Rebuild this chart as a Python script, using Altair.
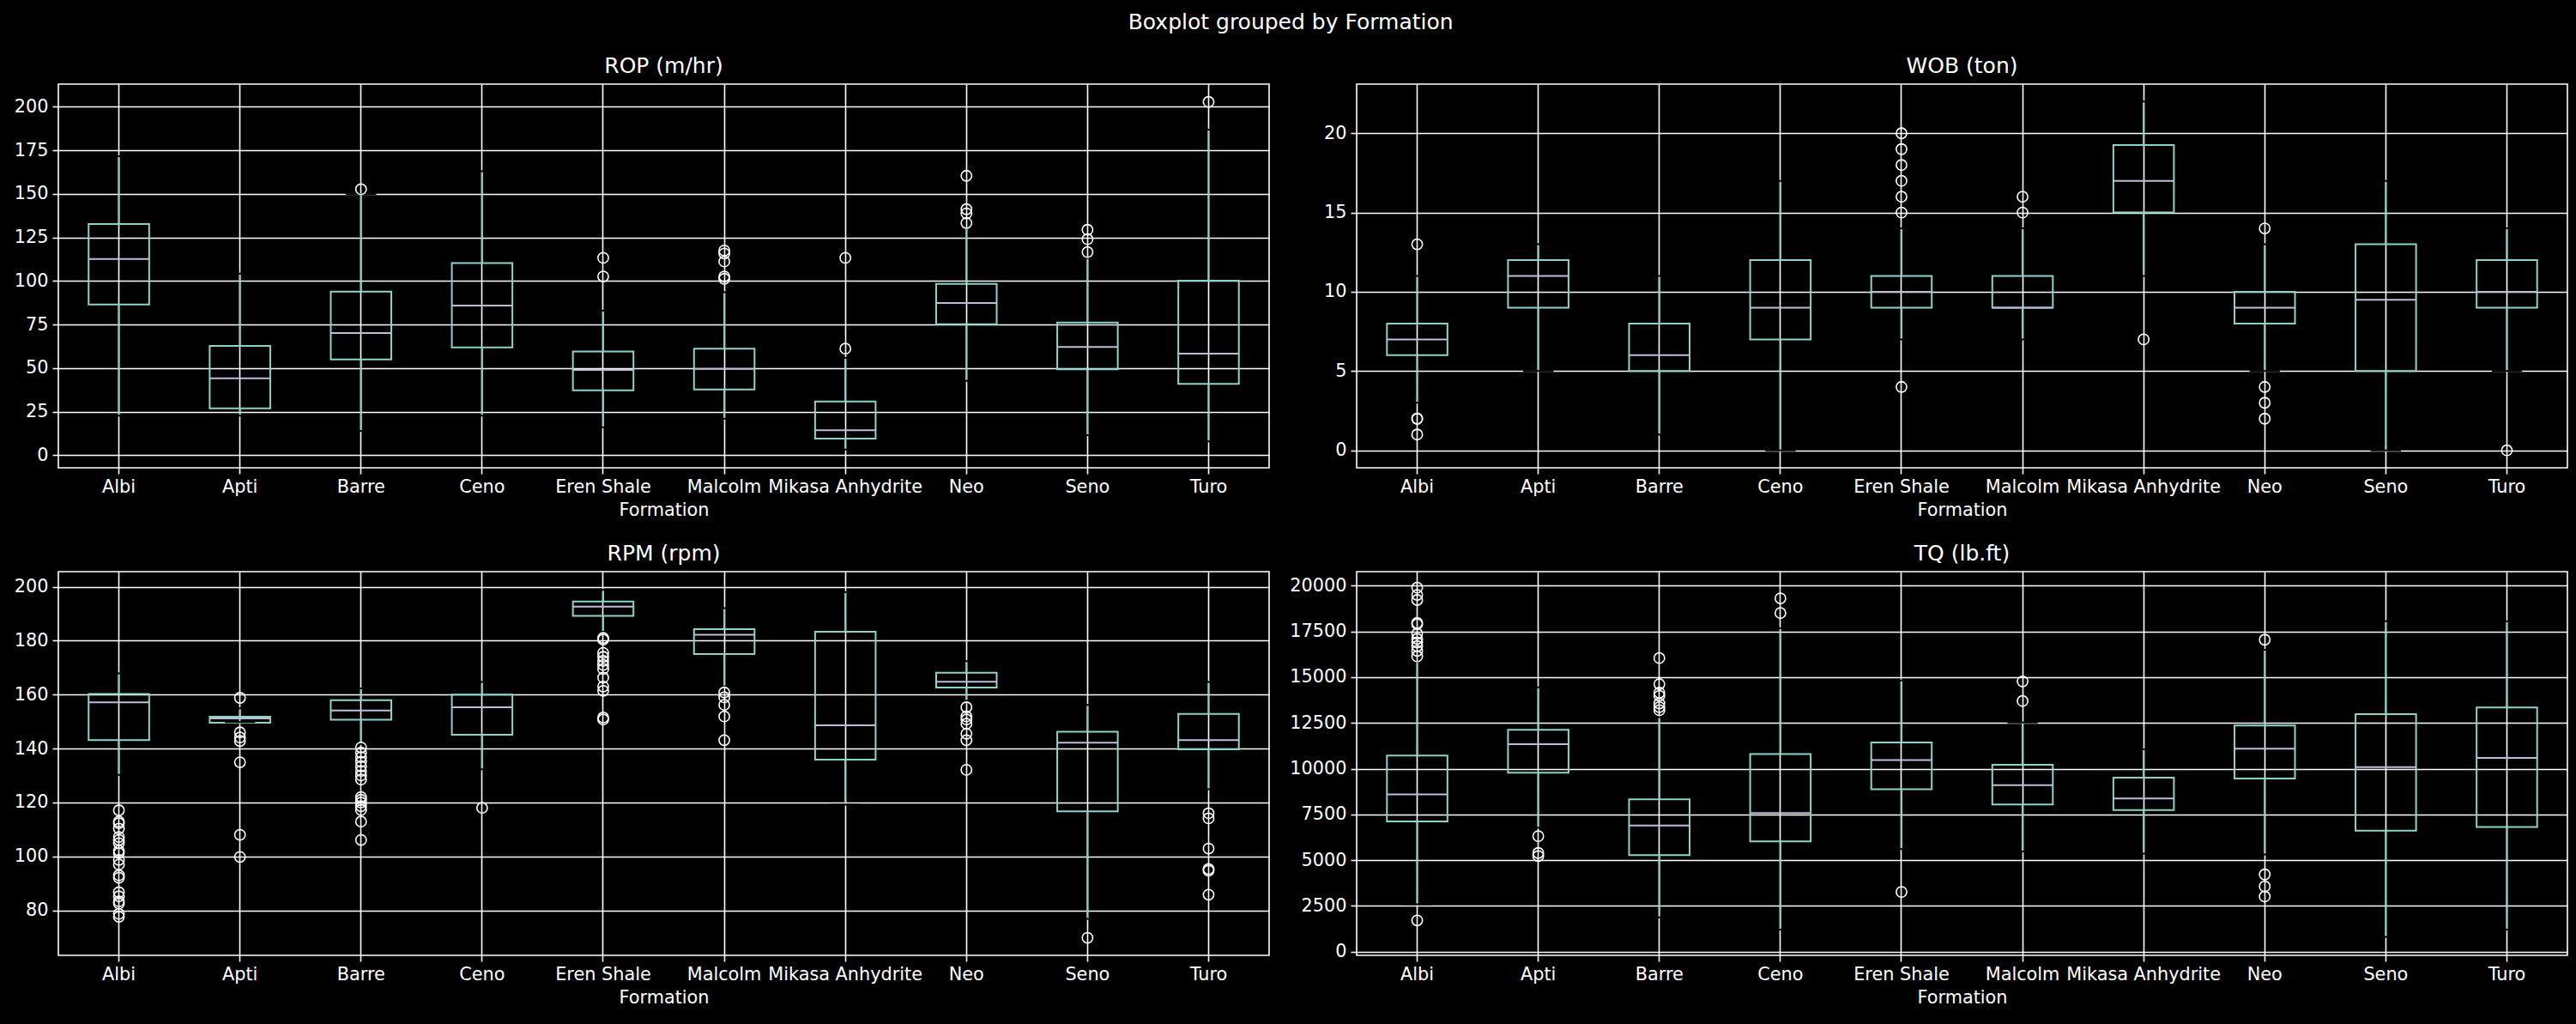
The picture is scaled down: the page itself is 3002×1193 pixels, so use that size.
import altair as alt
import pandas as pd

FORMATIONS = ["Albi", "Apti", "Barre", "Ceno", "Eren Shale", "Malcolm",
              "Mikasa Anhydrite", "Neo", "Seno", "Turo"]

# ROP (m/hr): quartiles, whisker ends and outliers per formation
ROP_Q1 = [86.5, 26.9, 55.0, 61.9, 37.3, 37.8, 9.5, 75.2, 49.3, 41.0]
ROP_MED = [112.6, 44.2, 70.1, 85.9, 48.9, 49.6, 14.3, 87.4, 62.1, 58.3]
ROP_Q3 = [132.7, 62.7, 93.9, 110.3, 59.6, 61.2, 30.9, 98.4, 76.2, 100.2]
ROP_LO = [22.7, 22.7, 14.0, 22.7, 16.1, 21.0, 3.3, 42.7, 11.5, 7.9]
ROP_HI = [171.6, 104.3, 149.8, 163.0, 82.9, 93.6, 55.8, 130.2, 113.3, 186.9]
ROP_OUT = [[], [], [152.7], [], [113.3, 102.6],
           [117.5, 115.8, 111.2, 102.6, 101.3], [113.3, 61.2],
           [160.4, 141.2, 138.8, 133.3], [129.4, 124.0, 116.6], [202.8]]

# WOB (ton)
WOB_Q1 = [6, 9, 5, 7, 9, 9, 15, 8, 5, 9]
WOB_MED = [7, 11, 6, 9, 10, 9, 17, 9, 9.5, 10]
WOB_Q3 = [8, 12, 8, 12, 11, 11, 19.25, 10, 13, 12]
WOB_LO = [3, 5, 1, 0, 7, 7, 11, 5, 0, 5]
WOB_HI = [11, 13, 11, 17, 14, 14, 22, 13, 17, 14]
WOB_OUT = [[13, 2, 2, 1], [], [], [], [20, 19, 18, 17, 16, 15, 4], [16, 15],
           [7], [14, 4, 3, 2], [], [0]]

# RPM (rpm)
RPM_Q1 = [143.1, 149.6, 150.7, 145.1, 189.2, 175.0, 135.9, 162.6, 116.7, 139.7]
RPM_MED = [157.1, 151.2, 154.1, 155.3, 192.6, 182.2, 148.6, 164.8, 142.2, 143.1]
RPM_Q3 = [160.2, 151.8, 157.9, 160.0, 194.5, 184.3, 183.3, 168.1, 146.2, 152.8]
RPM_LO = [130.2, 149.8, 141.7, 132.3, 183.3, 163.0, 119.2, 157.7, 76.8, 124.9]
RPM_HI = [167.9, 154.9, 162.3, 164.7, 198.8, 192.1, 198.0, 172.4, 156.2, 164.7]
RPM_OUT = [
    [117.1, 112.9, 112.3, 110.3, 107.2, 106.1, 104.9, 102.1, 101.2, 98.7,
     97.0, 93.0, 92.1, 86.7, 85.2, 83.3, 82.5, 78.7, 77.6],
    [158.8, 146.0, 144.1, 142.8, 134.9, 108.0, 99.8],
    [140.4, 138.5, 136.8, 135.1, 133.4, 131.7, 130.0, 128.5, 122.0, 121.0,
     120.0, 118.6, 117.2, 112.9, 106.1],
    [118.0],
    [181.0, 180.4, 175.5, 174.0, 172.5, 171.0, 169.5, 166.3, 163.0, 161.4,
     151.5, 150.8],
    [160.8, 159.0, 156.2, 151.9, 143.1],
    [],
    [155.3, 151.9, 150.8, 149.2, 145.5, 143.1, 132.1],
    [69.8],
    [116.0, 114.1, 102.9, 95.3, 94.7, 85.8],
]

# TQ (lb.ft)
TQ_Q1 = [7119, 9782, 5276, 6030, 8878, 8040, 7739, 9464, 6616, 6817]
TQ_MED = [8593, 11345, 6901, 7571, 10469, 9095, 8375, 11089, 10084, 10586]
TQ_Q3 = [10720, 12125, 8325, 10804, 11440, 10218, 9514, 12362, 12982, 13350]
TQ_LO = [2596, 6784, 1876, 1206, 5611, 5477, 5360, 5310, 804, 1206]
TQ_HI = [15860, 14450, 12814, 17672, 14824, 12529, 11055, 16499, 18057, 18057]
TQ_OUT = [
    [19893, 19500, 19220, 17970, 17900, 17380, 17100, 16900, 16700, 16440,
     16140, 1709],
    [6315, 5394, 5226],
    [16047, 14623, 14154, 13987, 13568, 13367, 13199],
    [19313, 18509],
    [3266],
    [14774, 13702],
    [],
    [17052, 4221, 3568, 3015],
    [],
    [],
]

PANELS = [
    ("ROP (m/hr)", ROP_Q1, ROP_MED, ROP_Q3, ROP_LO, ROP_HI, ROP_OUT),
    ("WOB (ton)", WOB_Q1, WOB_MED, WOB_Q3, WOB_LO, WOB_HI, WOB_OUT),
    ("RPM (rpm)", RPM_Q1, RPM_MED, RPM_Q3, RPM_LO, RPM_HI, RPM_OUT),
    ("TQ (lb.ft)", TQ_Q1, TQ_MED, TQ_Q3, TQ_LO, TQ_HI, TQ_OUT),
]

# Axis ranges and tick positions for each panel
Y_DOMAINS = {
    "ROP (m/hr)": [-7.2, 213.0],
    "WOB (ton)": [-1.1, 23.1],
    "RPM (rpm)": [63.3, 205.6],
    "TQ (lb.ft)": [-200, 20770],
}
Y_TICKS = {
    "ROP (m/hr)": list(range(0, 201, 25)),
    "WOB (ton)": list(range(0, 21, 5)),
    "RPM (rpm)": list(range(80, 201, 20)),
    "TQ (lb.ft)": list(range(0, 20001, 2500)),
}

TEAL = "#8dd3c7"
LAVENDER = "#bfbbd9"
FONT = "DejaVu Sans"
PANEL_W = 1411
PANEL_H = 447
LW = 2


def panel(title, q1, med, q3, lo, hi, out):
    stats = pd.DataFrame({
        "Formation": FORMATIONS, "q1": q1, "med": med, "q3": q3,
        "lo": lo, "hi": hi,
    })
    fl = pd.DataFrame(
        [(f, v) for f, vals in zip(FORMATIONS, out) for v in vals],
        columns=["Formation", "value"],
    )

    x = alt.X(
        "Formation:N", sort=FORMATIONS,
        scale=alt.Scale(domain=FORMATIONS, paddingInner=0, paddingOuter=0),
        axis=alt.Axis(title="Formation", labelAngle=0, bandPosition=0.5,
                      labelOverlap=False, labelLimit=500, grid=True),
    )
    yscale = alt.Scale(domain=Y_DOMAINS[title], nice=False, zero=False)
    yaxis = alt.Axis(values=Y_TICKS[title], format="d", title=None, grid=True)

    base = alt.Chart(stats)
    whisk_lo = base.mark_rule(color=TEAL, strokeWidth=LW).encode(
        x=x, y=alt.Y("lo:Q", scale=yscale, axis=yaxis), y2="q1:Q")
    whisk_hi = base.mark_rule(color=TEAL, strokeWidth=LW).encode(
        x=x, y=alt.Y("q3:Q", scale=yscale), y2="hi:Q")
    box = base.mark_bar(width={"band": 0.5}, fillOpacity=0, stroke=TEAL,
                        strokeWidth=LW).encode(
        x=x, y=alt.Y("q1:Q", scale=yscale), y2="q3:Q")
    median = base.mark_bar(width={"band": 0.5}, fillOpacity=0,
                           stroke=LAVENDER, strokeWidth=LW).encode(
        x=x, y=alt.Y("med:Q", scale=yscale), y2="med:Q")
    cap_lo = base.mark_bar(width={"band": 0.25}, fillOpacity=0,
                           stroke="black", strokeWidth=LW).encode(
        x=x, y=alt.Y("lo:Q", scale=yscale), y2="lo:Q")
    cap_hi = base.mark_bar(width={"band": 0.25}, fillOpacity=0,
                           stroke="black", strokeWidth=LW).encode(
        x=x, y=alt.Y("hi:Q", scale=yscale), y2="hi:Q")
    fliers = alt.Chart(fl).mark_point(
        shape="circle", filled=False, stroke="white", strokeWidth=1.6,
        size=150, opacity=1,
    ).encode(x=x, y=alt.Y("value:Q", scale=yscale))

    return alt.layer(
        whisk_lo, whisk_hi, box, median, cap_lo, cap_hi, fliers,
    ).properties(
        width=PANEL_W, height=PANEL_H,
        title=alt.TitleParams(title, fontSize=25, font=FONT,
                              fontWeight="normal", color="white",
                              baseline="alphabetic", offset=-12),
    )


charts = [panel(*p) for p in PANELS]

chart = alt.concat(
    *charts, columns=2, spacing={"row": 121, "column": 102}, bounds="flush",
).properties(
    title=alt.TitleParams("Boxplot grouped by Formation", fontSize=25,
                          font=FONT, fontWeight="normal", color="white",
                          anchor="middle", offset=25),
    padding={"left": 15, "top": 14, "right": 9, "bottom": 78},
).configure(
    background="black", font=FONT,
).configure_view(
    stroke="white", strokeWidth=1.6,
).configure_axis(
    domain=False, grid=True, gridColor="white", gridWidth=1.6,
    tickColor="white", tickWidth=1.6, tickSize=7,
    labelColor="white", labelFont=FONT, labelFontSize=20.8, labelPadding=5,
    titleColor="white", titleFont=FONT, titleFontSize=20.8,
    titleFontWeight="normal", titlePadding=8,
)

chart.save("out.html", embed_options={"renderer": "svg", "actions": False})
